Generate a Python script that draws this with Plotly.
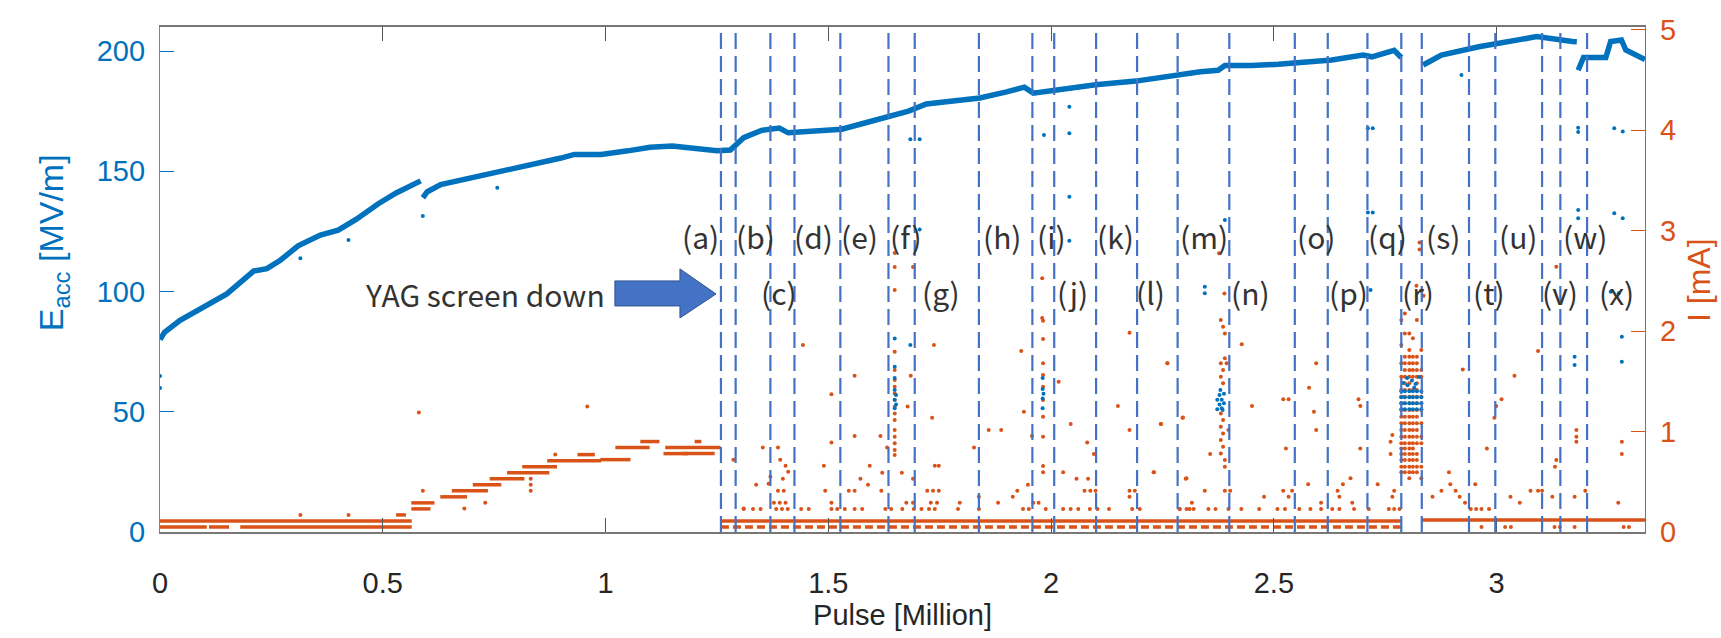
import plotly.graph_objects as go

# ---------------- data ----------------
# Accelerating gradient E_acc [MV/m] main trend (None = gap in data)
eacc_x = [0.000, 0.010, 0.045, 0.100, 0.150, 0.210, 0.240, 0.270, 0.310, 0.360, 0.400, 0.440,
          0.490, 0.530, 0.565, 0.585, None,
          0.590, 0.600, 0.630, 0.680, 0.750, 0.850, 0.900, 0.930, 0.990, 1.050, 1.100, 1.150,
          1.200, 1.250, 1.280, 1.310, 1.350, 1.390, 1.410, 1.450, 1.500, 1.530, 1.590, 1.640,
          1.680, 1.720, 1.760, 1.840, 1.900, 1.940, 1.960, 2.000, 2.050, 2.100, 2.190, 2.280,
          2.335, 2.375, 2.390, 2.450, 2.510, 2.630, 2.700, 2.720, 2.770, 2.786, None,
          2.835, 2.876, 2.960, 3.040, 3.090, 3.170, 3.180, None,
          3.183, 3.195, 3.245, 3.256, 3.280, 3.290, 3.333]
eacc_y = [80, 83, 88, 94, 99, 108.5, 109.5, 113, 119, 123.5, 125.5, 130,
          136.5, 141, 144.5, 146, None,
          139, 141.5, 144.5, 146.5, 149.5, 153, 155.5, 157, 157, 158.5, 160, 160.5,
          159.5, 158.5, 158.8, 164, 167, 168, 166, 166.5, 167.5, 167.5, 170.5, 173,
          175, 178, 179, 180.5, 183, 185, 182.5, 183.5, 185, 186, 187.5, 190,
          191.4, 192, 194, 194, 194.5, 196.3, 198.3, 197.6, 200.3, 197.3, None,
          194.2, 198.3, 201.8, 204.6, 206, 204, 203.9, None,
          192, 197.3, 197.3, 204, 204.6, 200.4, 196.5]

# E_acc scattered points (outliers and drop clusters)
eacc_pts_x = [0.000, 0.000, 0.315, 0.423, 0.590, 0.757,
              1.684, 1.705, 1.984, 2.041, 2.041, 2.041, 1.705, 2.041,
              1.649, 1.684, 1.649, 1.649, 1.649, 1.649, 1.649, 1.652, 1.652,
              1.981, 1.981, 1.981, 1.981, 1.983,
              2.711, 2.722, 2.711, 2.722, 2.390, 2.921, 3.183, 3.183, 3.264, 3.283,
              3.183, 3.183, 3.264, 3.283, 2.345, 2.345, 3.256, 3.274, 2.717,
              2.373, 2.378, 2.383, 2.388, 2.373, 2.378, 2.383, 2.388, 2.380, 2.385,
              3.175, 3.175, 3.281, 3.281,
              2.786, 2.794, 2.804, 2.812, 2.821, 2.831,
              2.786, 2.794, 2.804, 2.812, 2.821, 2.831,
              2.786, 2.794, 2.804, 2.812, 2.821, 2.831,
              2.786, 2.794, 2.804, 2.812, 2.821, 2.831,
              2.790, 2.800, 2.810, 2.818, 2.826, 2.799, 2.815]
eacc_pts_y = [64.9, 59.9, 113.8, 121.4, 131.4, 143.2,
              163.3, 163.3, 165.1, 165.8, 139.4, 176.8, 125.8, 121.1,
              80.5, 77.8, 68.7, 64.0, 59.0, 55.0, 51.5, 57.0, 53.0,
              64.0, 59.5, 55.5, 51.5, 57.5,
              167.9, 167.9, 132.9, 132.9, 129.7, 190.0, 168.1, 166.3, 167.9, 166.5,
              133.9, 130.5, 132.6, 130.5, 102.0, 99.3, 99.9, 99.3, 100.6,
              51.0, 53.0, 55.0, 57.5, 55.0, 57.0, 51.5, 53.5, 59.0, 50.7,
              72.9, 69.4, 81.2, 70.8,
              51, 51, 51, 51, 51, 51,
              53.5, 53.5, 53.5, 53.5, 53.5, 53.5,
              56, 56, 56, 56, 56, 56,
              58.5, 58.5, 58.5, 58.5, 58.5, 58.5,
              62, 61, 63, 61.5, 64.5, 64, 60]

# Beam current I [mA]: horizontal bands (start, end, level)
band_x0 = [0.000, 0.000, 0.110, 0.180, 0.530, 0.564, 0.564, 0.629, 0.655, 0.702, 0.740,
           0.779, 0.813, 0.869, 0.937, 0.988, 1.022, 1.078, 1.130, 1.134, 1.172, 1.200,
           1.259, 2.832]
band_x1 = [0.565, 0.105, 0.155, 0.565, 0.552, 0.607, 0.616, 0.689, 0.736, 0.766, 0.818,
           0.874, 0.891, 0.990, 0.976, 1.056, 1.099, 1.121, 1.185, 1.258, 1.245, 1.215,
           2.786, 3.333]
band_i = [0.11, 0.05, 0.05, 0.05, 0.17, 0.23, 0.29, 0.35, 0.41, 0.47, 0.53,
          0.59, 0.65, 0.71, 0.77, 0.72, 0.84, 0.90, 0.78, 0.84, 0.78, 0.90,
          0.11, 0.12]

# dotted low band after the YAG screen went down
low_band_x0 = [1.259]
low_band_x1 = [2.786]
low_band_i = [0.05]

# dotted row at ~0.23 mA
row23_x = [1.310, 1.331, 1.348, 1.383, 1.396, 1.409, 1.439, 1.456, 1.507, 1.520, 1.537,
           1.559, 1.576, 1.628, 1.641, 1.666, 1.692, 1.709, 1.726, 1.739, 1.791, 1.838,
           1.937, 1.950, 1.988, 2.027, 2.044, 2.061, 2.087, 2.104, 2.130, 2.182, 2.199,
           2.289, 2.311, 2.288, 2.304, 2.320, 2.353, 2.369, 2.398, 2.427, 2.467, 2.508,
           2.525, 2.557, 2.582, 2.606, 2.631, 2.647, 2.680, 2.713, 2.758, 2.770, 2.782,
           2.942, 2.954, 2.966, 2.983]
row23_i = [0.23] * len(row23_x)

# scattered current points
cur_x = [0.315, 0.423, 0.581, 0.959, 0.590, 0.683, 0.730, 0.832, 0.832, 0.832, 0.887,
         1.287, 1.310, 1.338, 1.353, 1.366, 1.370, 1.387, 1.392, 1.398, 1.404, 1.410,
         1.387, 1.400, 1.378, 1.391, 1.404, 1.443, 1.490, 1.493, 1.507, 1.507, 1.507,
         1.546, 1.559, 1.559, 1.559, 1.572, 1.589, 1.593, 1.617, 1.619, 1.621, 1.632,
         1.649, 1.649, 1.649, 1.649, 1.649, 1.649, 1.649, 1.649, 1.649, 1.649, 1.649,
         1.649, 1.649, 1.649, 1.649, 1.649, 1.649, 1.690,
         1.665, 1.678, 1.685, 1.690, 1.675, 1.690, 1.722, 1.735, 1.748, 1.733, 1.737,
         1.739, 1.748, 1.730, 1.744, 1.795, 1.827, 1.838, 1.860, 1.888, 1.881, 1.914,
         1.924, 1.933, 1.939, 1.948, 1.957, 1.960, 1.972,
         1.982, 1.982, 1.982, 1.982, 1.982, 1.982, 1.982, 1.982, 1.982, 1.982, 1.980,
         1.980, 2.017, 2.027, 2.044, 2.057, 2.083, 2.081, 2.096, 2.075, 2.088, 2.100,
         2.150, 2.176, 2.176, 2.176, 2.188, 2.176, 2.231, 2.246, 2.261, 2.295, 2.302,
         2.381, 2.386, 2.390, 2.390, 2.381, 2.386, 2.381, 2.386, 2.381, 2.386, 2.381,
         2.386, 2.381, 2.386, 2.381, 2.390, 2.390, 2.398, 2.394, 2.377, 2.389,
         2.428, 2.451, 2.357, 2.296, 2.304, 2.261, 2.247, 2.230, 2.390, 2.402, 2.345,
         2.316, 2.478, 2.521, 2.533, 2.527, 2.521, 2.533, 2.541, 2.579, 2.590, 2.595,
         2.595, 2.577, 2.606, 2.643, 2.655, 2.672, 2.690, 2.694, 2.694, 2.647, 2.676,
         2.733, 2.762, 2.762, 2.766, 2.770, 2.766,
         2.827, 2.827, 2.820, 2.830, 2.836,
         2.856, 2.876, 2.893, 2.896, 2.908, 2.917, 2.924, 2.929, 2.952, 2.978, 2.995,
         2.999, 3.011, 3.031, 3.040, 3.052, 3.076, 3.093, 3.102, 3.093, 3.125, 3.131,
         3.134, 3.134, 3.175, 3.179, 3.179, 3.179, 3.199, 3.273, 3.281, 3.281,
         2.966, 3.019, 3.032, 3.130, 3.142, 3.175, 3.285, 3.297]
cur_i = [0.17, 0.17, 1.19, 1.25, 0.41, 0.235, 0.29, 0.53, 0.47, 0.41, 0.77,
         0.72, 0.235, 0.47, 0.84, 0.48, 0.55, 0.84, 0.72, 0.53, 0.66, 0.60,
         0.41, 0.41, 0.29, 0.29, 0.29, 1.86, 0.66, 0.41, 1.37, 0.89, 0.29,
         0.41, 0.41, 1.555, 0.955, 0.53, 0.47, 0.66, 0.955, 0.41, 0.59, 0.84,
         1.794, 1.611, 1.512, 1.446, 1.379, 1.313, 1.247, 1.18, 1.114, 1.015, 0.948,
         0.882, 0.815, 0.766, 2.776, 2.637, 2.408, 2.637,
         0.59, 1.25, 1.555, 0.53, 0.29, 0.29, 0.41, 0.41, 0.41, 1.137, 1.86,
         0.66, 0.66, 0.29, 0.29, 0.29, 0.84, 0.35, 1.015, 1.015, 0.29, 0.35,
         0.41, 1.80, 1.197, 0.47, 0.955, 0.29, 0.29,
         2.102, 1.92, 1.678, 1.562, 1.446, 1.313, 1.147, 0.948, 0.656, 0.594, 2.524,
         2.13, 1.495, 0.594, 1.074, 0.53, 0.53, 0.89, 0.776, 0.41, 0.41, 0.41,
         1.254, 1.983, 1.015, 0.41, 0.41, 0.35, 0.594, 1.074, 1.678, 1.137, 0.53,
         2.109, 2.043, 1.976, 1.728, 1.678, 1.611, 1.545, 1.479, 1.18, 1.114, 1.048,
         0.981, 0.915, 0.849, 0.782, 0.716, 0.649, 1.015, 1.678, 2.773, 2.374,
         1.867, 1.253, 0.776, 1.14, 0.534, 1.678, 1.074, 0.594, 0.41, 0.41, 0.41,
         0.29, 0.35, 1.32, 1.32, 0.832, 0.41, 0.35, 0.41, 1.436, 1.197, 1.678,
         1.015, 0.474, 0.29, 0.41, 0.474, 0.534, 1.32, 1.253, 0.832, 0.35, 0.29,
         0.474, 0.898, 0.776, 0.965, 0.41, 0.35,
         2.88, 2.81, 2.45, 2.40, 2.35,
         0.35, 0.41, 0.594, 0.474, 0.41, 0.35, 1.618, 0.29, 0.474, 0.832, 1.137,
         1.253, 1.32, 0.35, 1.555, 0.29, 0.41, 1.80, 0.41, 0.41, 0.35, 0.649,
         0.716, 2.64, 0.35, 1.015, 0.948, 0.898, 0.41, 0.29, 0.898, 0.776,
         0.05, 0.05, 0.05, 0.05, 0.05, 0.05, 0.05, 0.05]

# dense current cluster in region (r)
r_cols_x = [2.786, 2.794, 2.804, 2.812, 2.821, 2.831]
r_cols_i = [
    [2.109, 1.86, 1.678, 1.545, 1.412, 1.346, 1.28, 1.213, 1.147, 1.081, 1.015, 0.948, 0.882,
     0.832, 0.776, 0.716, 0.649, 0.594],
    [2.175, 1.976, 1.744, 1.678, 1.611, 1.545, 1.479, 1.412, 1.346, 1.28, 1.213, 1.147, 1.081,
     1.015, 0.948, 0.882, 0.832, 0.776, 0.716, 0.649, 0.594],
    [1.976, 1.81, 1.744, 1.678, 1.611, 1.545, 1.479, 1.412, 1.346, 1.28, 1.213, 1.147, 1.081,
     1.015, 0.948, 0.882, 0.832, 0.776, 0.716, 0.649, 0.594, 0.534],
    [1.927, 1.744, 1.678, 1.611, 1.545, 1.412, 1.346, 1.28, 1.213, 1.147, 1.081, 1.015, 0.948,
     0.882, 0.832, 0.776, 0.716, 0.649, 0.594],
    [2.109, 1.744, 1.678, 1.611, 1.545, 1.479, 1.412, 1.346, 1.28, 1.213, 1.147, 1.081, 1.015,
     0.948, 0.882, 0.776, 0.716, 0.649, 0.594],
    [1.81, 1.611, 1.545, 1.346, 1.28, 1.213, 1.081, 0.948, 0.882, 0.649, 0.534],
]

# event boundaries (dashed lines) and region labels
event_x = [1.259, 1.292, 1.370, 1.424, 1.527, 1.635, 1.694, 1.838, 1.958, 2.007, 2.101,
           2.193, 2.284, 2.400, 2.547, 2.621, 2.710, 2.786, 2.832, 2.938, 2.997, 3.102,
           3.143, 3.203]
label_text = ["(a)", "(b)", "(c)", "(d)", "(e)", "(f)", "(g)", "(h)", "(i)", "(j)", "(k)", "(l)",
              "(m)", "(n)", "(o)", "(p)", "(q)", "(r)", "(s)", "(t)", "(u)", "(v)", "(w)", "(x)"]
label_x = [1.214, 1.336, 1.389, 1.467, 1.571, 1.675, 1.753, 1.890, 2.002, 2.049, 2.144, 2.224,
           2.343, 2.447, 2.595, 2.667, 2.754, 2.824, 2.880, 2.983, 3.048, 3.143, 3.199, 3.268]
label_row_y = [123, 123, 100, 123, 123, 123, 100, 123, 123, 100, 123, 100,
               123, 100, 123, 100, 123, 100, 123, 100, 123, 100, 123, 100]

x_ticks = [0, 0.5, 1, 1.5, 2, 2.5, 3]
x_ticklabels = ["0", "0.5", "1", "1.5", "2", "2.5", "3"]
eacc_ticks = [0, 50, 100, 150, 200]
cur_ticks = [0, 1, 2, 3, 4, 5]

# ---------------- styling ----------------
BLUE = "#0072BD"
ORANGE = "#D95319"
LINE_BLUE = "#4472C4"
FONT = "Liberation Sans, Arial, sans-serif"
LABEL_FONT = "Noto Sans CJK SC, Noto Sans, sans-serif"

fig = go.Figure()

# current bands (right axis -> 'y')
for x0, x1, lv in zip(band_x0, band_x1, band_i):
    fig.add_trace(go.Scatter(x=[x0, x1], y=[lv, lv], mode="lines",
                             line=dict(color=ORANGE, width=3.5), yaxis="y",
                             hoverinfo="skip", showlegend=False))
for x0, x1, lv in zip(low_band_x0, low_band_x1, low_band_i):
    fig.add_trace(go.Scatter(x=[x0, x1], y=[lv, lv], mode="lines",
                             line=dict(color=ORANGE, width=3.5, dash="8px,4px"), yaxis="y",
                             hoverinfo="skip", showlegend=False))
fig.add_trace(go.Scatter(x=row23_x, y=row23_i, mode="markers",
                         marker=dict(color=ORANGE, size=4), yaxis="y", showlegend=False))
fig.add_trace(go.Scatter(x=cur_x, y=cur_i, mode="markers",
                         marker=dict(color=ORANGE, size=4), yaxis="y", showlegend=False))
for cx, col in zip(r_cols_x, r_cols_i):
    fig.add_trace(go.Scatter(x=[cx] * len(col), y=col, mode="markers",
                             marker=dict(color=ORANGE, size=4), yaxis="y", showlegend=False))

# E_acc (left axis -> 'y2', drawn on top)
fig.add_trace(go.Scatter(x=eacc_x, y=eacc_y, mode="lines", connectgaps=False,
                         line=dict(color=BLUE, width=5.5), yaxis="y2", showlegend=False))
fig.add_trace(go.Scatter(x=eacc_pts_x, y=eacc_pts_y, mode="markers",
                         marker=dict(color=BLUE, size=4), yaxis="y2", showlegend=False))

# dashed event lines
for ex in event_x:
    fig.add_shape(type="line", xref="x", yref="paper", x0=ex, x1=ex, y0=0, y1=0.99,
                  line=dict(color=LINE_BLUE, width=2.2, dash="16px,7px"), layer="above")

# region labels
for t, lx, ly in zip(label_text, label_x, label_row_y):
    fig.add_annotation(x=lx, y=ly, xref="x", yref="y2", text=t, showarrow=False,
                       font=dict(family=LABEL_FONT, size=30, color="#333333"))

# YAG screen annotation: block arrow
arrow_x = [1.021, 1.167, 1.248]
arrow_y = [109.4, 104.4, 99.0, 94.0, 89.0]
path = (f"M {arrow_x[0]},{arrow_y[1]} L {arrow_x[1]},{arrow_y[1]} L {arrow_x[1]},{arrow_y[0]} "
        f"L {arrow_x[2]},{arrow_y[2]} L {arrow_x[1]},{arrow_y[4]} L {arrow_x[1]},{arrow_y[3]} "
        f"L {arrow_x[0]},{arrow_y[3]} Z")
fig.add_shape(type="path", path=path, xref="x", yref="y2",
              fillcolor="#4472C4", line=dict(color="#2F528F", width=1), layer="above")
fig.add_annotation(x=1.003, y=99, xref="x", yref="y2", text="YAG screen down",
                   showarrow=False, xanchor="right",
                   font=dict(family=LABEL_FONT, size=30, color="#333333"))

# axis titles as annotations (positioned like the reference)
fig.add_annotation(x=-0.072, y=0.572, xref="paper", yref="paper",
                   xanchor="center", yanchor="middle",
                   text="E<sub>acc</sub> [MV/m]", textangle=-90, showarrow=False,
                   font=dict(family=FONT, size=34, color=BLUE))
fig.add_annotation(x=1.036, y=0.50, xref="paper", yref="paper",
                   xanchor="center", yanchor="middle",
                   text="I [mA]", textangle=-90, showarrow=False,
                   font=dict(family=FONT, size=32, color=ORANGE))

fig.update_layout(
    width=1721, height=638,
    margin=dict(l=160, r=76, t=27, b=106),
    paper_bgcolor="white", plot_bgcolor="white",
    font=dict(family=FONT, size=27, color="#262626"),
    xaxis=dict(range=[0, 3.333], tickvals=x_ticks, ticktext=x_ticklabels,
               ticks="inside", ticklen=14, tickwidth=1, tickcolor="#555555",
               showline=True, linecolor="#777777", linewidth=1.5, mirror="ticks",
               showgrid=False, zeroline=False, ticklabelstandoff=24,
               tickfont=dict(size=29, color="#262626"),
               title=dict(text="Pulse [Million]", font=dict(size=29, color="#262626"),
                          standoff=2)),
    yaxis=dict(range=[0, 5.025], tickvals=cur_ticks, side="right",
               ticks="inside", ticklen=14, tickcolor=ORANGE,
               showline=True, linecolor=ORANGE, linewidth=1.2,
               showgrid=False, zeroline=False, ticklabelstandoff=8,
               tickfont=dict(size=29, color=ORANGE)),
    yaxis2=dict(range=[0, 210], tickvals=eacc_ticks, side="left", overlaying="y",
                ticks="inside", ticklen=14, tickcolor=BLUE,
                showline=True, linecolor="#5b8db8", linewidth=1.2,
                showgrid=False, zeroline=False, ticklabelstandoff=8,
                tickfont=dict(size=29, color=BLUE)),
)

fig.write_html("out.html")
